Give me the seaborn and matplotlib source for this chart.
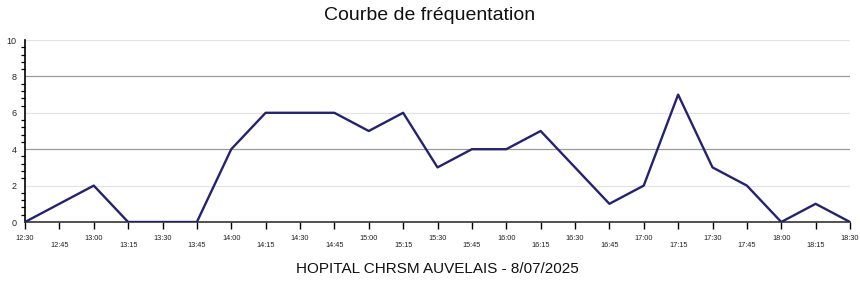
import numpy as np
import pandas as pd
import matplotlib
matplotlib.use("Agg")
import matplotlib.pyplot as plt
from matplotlib.ticker import MultipleLocator
import seaborn as sns

times = ["12:30", "12:45", "13:00", "13:15", "13:30", "13:45", "14:00", "14:15",
         "14:30", "14:45", "15:00", "15:15", "15:30", "15:45", "16:00", "16:15",
         "16:30", "16:45", "17:00", "17:15", "17:30", "17:45", "18:00", "18:15", "18:30"]
visitors = [0, 1, 2, 0, 0, 0, 4, 6, 6, 6, 5, 6, 3, 4, 4, 5, 3, 1, 2, 7, 3, 2, 0, 1, 0]
title = "Courbe de fréquentation"
xlabel = "HOPITAL CHRSM AUVELAIS - 8/07/2025"

sns.set_style("white")
plt.rcParams['font.family'] = ['Liberation Sans', 'DejaVu Sans']

df = pd.DataFrame({"pos": np.arange(len(times)), "time": times, "visitors": visitors})

fig = plt.figure(figsize=(8.6, 2.84), dpi=100)
ax = fig.add_axes([25/860, 62/284, 825/860, 182/284])

for y in [2, 6, 10]:
    ax.axhline(y, color="#e4e4e4", lw=0.9, zorder=0)
for y in [4, 8]:
    ax.axhline(y, color="#9a9a9a", lw=0.9, zorder=0)

sns.lineplot(data=df, x="pos", y="visitors", ax=ax, color="#232370", lw=1.7, zorder=3)

ax.set_xlim(0, len(times) - 1)
ax.set_ylim(0, 10)
ax.set_yticks([0, 2, 4, 6, 8, 10])
ax.yaxis.set_minor_locator(MultipleLocator(0.4))
ax.tick_params(axis="y", which="major", length=5, width=1.2, labelsize=6.5, pad=1, color="black")
ax.tick_params(axis="y", which="minor", length=3, width=0.9, color="black", left=True)
ax.set_xticks(df["pos"])
ax.set_xticklabels([t if i % 2 == 0 else "\n" + t for i, t in enumerate(times)], fontsize=5.3, color="#222222",
                   linespacing=1.15)
ax.tick_params(axis="x", which="major", length=5, width=1.0, pad=4, color="black", bottom=True)

for s in ["top", "right"]:
    ax.spines[s].set_visible(False)
ax.spines["left"].set_color("black")
ax.spines["left"].set_linewidth(1.2)
ax.spines["bottom"].set_color("#333333")
ax.spines["bottom"].set_linewidth(1.2)

ax.set_ylabel("")
ax.set_xlabel(xlabel, fontsize=11, color="#111111", labelpad=9)
fig.text(0.5, 1 - 16/284, title, ha="center", va="center", fontsize=14, color="#111111")

fig.savefig("out.png", dpi=100)
